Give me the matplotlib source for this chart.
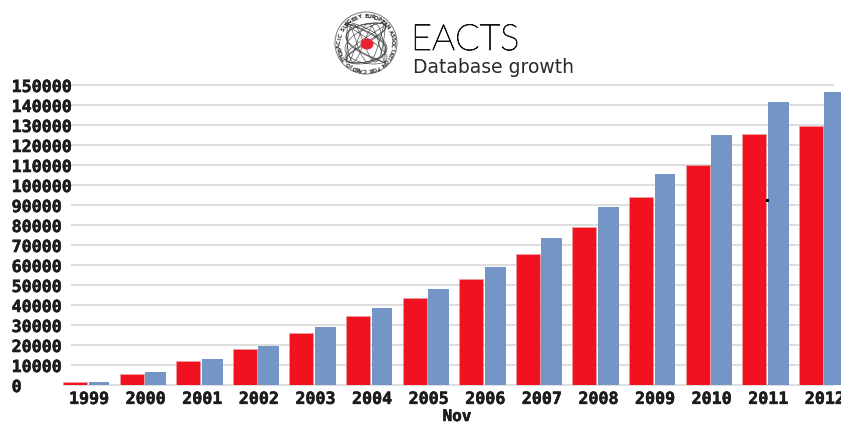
import numpy as np
import matplotlib
matplotlib.use("Agg")
import matplotlib.pyplot as plt
import matplotlib.patheffects as pe
from matplotlib.patches import Circle, Ellipse

W, H = 841, 426

years = [1999, 2000, 2001, 2002, 2003, 2004, 2005, 2006, 2007, 2008, 2009, 2010, 2011, 2012]
red_values = [1500, 5500, 12000, 17800, 26000, 34700, 43500, 53000, 65500, 79000, 94000, 110000, 125300, 129500]
blue_values = [1500, 6400, 12900, 19400, 29000, 38700, 48000, 59000, 73500, 89000, 105700, 124800, 141300, 146500]
y_ticks = list(range(0, 150001, 10000))

RED = "#f2111f"
BLUE = "#7396c6"
GRID = "#dedede"
INK = "#1c1c1c"

fig = plt.figure(figsize=(W / 100, H / 100), dpi=100, facecolor="white")

# plot area, in pixels: x 63..841, y 85..385 from the top
ax = fig.add_axes([63 / W, (H - 385) / H, (W - 63) / W, 300 / H])
ax.set_ylim(0, 150000)
step = 56.6
ax.set_xlim(1999 - 26 / step, 1999 + (W - 89) / step)

# grid lines run a little short of the plot edges
ax.hlines(y_ticks[1:], 0.0105, 0.991, transform=ax.get_yaxis_transform(), color=GRID, lw=1.4, zorder=1, clip_on=False)
ax.hlines(0, 0, 0.991, transform=ax.get_yaxis_transform(), color=GRID, lw=1.4, zorder=1, clip_on=False)

yrs = np.array(years)
ax.bar(yrs - 14 / step, red_values, width=24 / step, color=RED, edgecolor="#e8a0a4", lw=0.5, zorder=2)
ax.bar(yrs + 10 / step, blue_values, width=21 / step, color=BLUE, zorder=2)

for s in ax.spines.values():
    s.set_visible(False)
ax.patch.set_alpha(0)

chunky = [pe.withStroke(linewidth=0.4, foreground=INK)]

ax.set_yticks(y_ticks)
ax.set_xticks(years)
ax.tick_params(length=0)
ax.tick_params(axis="y", pad=37)
ax.tick_params(axis="x", pad=3.5)
for lab in ax.get_yticklabels() + ax.get_xticklabels():
    lab.set_family("DejaVu Sans Mono")
    lab.set_weight("bold")
    lab.set_size(12)
    lab.set_color(INK)
    lab.set_path_effects(chunky)
for lab in ax.get_yticklabels():
    lab.set_ha("left")

# small stray tick on the 2011 bar
ax.plot([2011 - 0.02], [92500], marker="s", ms=1.2, color="black", zorder=3)

# header drawn on an overlay in pixel coordinates
top = fig.add_axes([0, 0, 1, 1], facecolor="none")
top.set_xlim(0, W)
top.set_ylim(H, 0)
top.axis("off")

top.text(457, 416.5, "Nov", family="DejaVu Sans Mono", weight="bold", size=11.5, color=INK,
         ha="center", va="center", path_effects=chunky)

cx, cy = 366, 43
top.add_patch(Circle((cx, cy), 31, fc="none", ec="#777777", lw=0.7))

# tangled loops inside the emblem
t = np.linspace(0, 2 * np.pi, 500)
for a, b, ph, r in [(3, 2, 0.4, 21), (5, 3, 1.1, 20), (2, 5, 2.0, 19)]:
    top.plot(cx + r * np.sin(a * t + ph), cy + r * np.sin(b * t), color="#555555", lw=0.5)
top.add_patch(Ellipse((cx + 1, cy + 1), 13, 11, fc="#e8222f", ec="none", zorder=5))

ring = "EUROPEAN ASSOCIATION FOR CARDIO-THORACIC SURGERY "
for i, ch in enumerate(ring):
    a = 2 * np.pi * i / len(ring) - np.pi / 2
    top.text(cx + 26.5 * np.cos(a), cy + 26.5 * np.sin(a), ch, size=4, weight="bold", color="#333333",
             rotation=-np.degrees(a) - 90, ha="center", va="center")

top.text(411, 50, "EACTS", family="Lato", weight="light", size=26, color="#111111", ha="left", va="baseline",
         path_effects=[pe.withStroke(linewidth=0.6, foreground="#111111")])
top.text(413, 73, "Database growth", family="DejaVu Sans", size=13.5, color="#2a2a2a", ha="left", va="baseline")

fig.savefig("out.png", dpi=100)
